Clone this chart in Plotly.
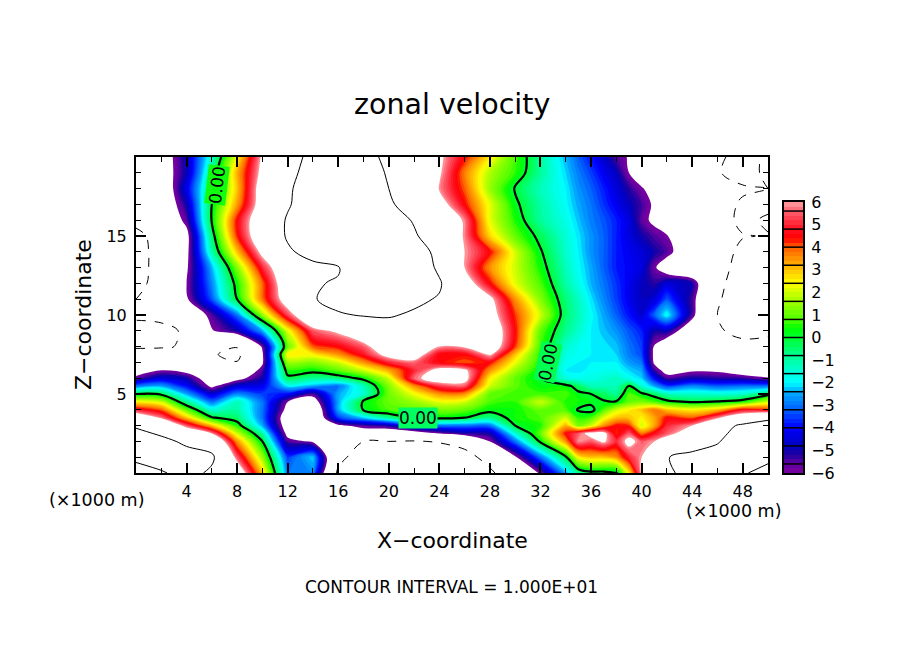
import numpy as np
import plotly.graph_objects as go

# grid of the section, x and z in km
x_km = list(range(0, 35, 2)) + [35, 36, 37, 38, 39, 40, 41] + list(range(42, 51, 2))
z_km = [0, 1, 2, 2.5, 3, 3.5, 4, 4.5, 5, 5.5, 6, 6.5, 7, 7.5, 8, 9, 10, 11, 12, 13, 14, 15, 16, 17, 18, 19, 20]

# zonal velocity, one row per z level
u_rows = [
    [9, 9.7, 11, 9.5, 7.5, 3, -3, -2.8, -10.5, -12, -12, -12, -12, -11.5, -10.5, -8, -5.8, -2.5, -.8, -.3, -.3, -.3, 2.5, 6.2, 8, 9.5, 11, 11.5, 10.2, 9.3],
    [10.5, 11.5, 11.5, 10.5, 5.5, 1.5, -3.5, -2.2, -9.2, -11.5, -12, -12, -12, -11, -9, -6.2, -3, -.2, 2.5, 3, 3, 3.5, 5, 6, 7.5, 9.9, 10.8, 11, 10.3, 10.5],
    [12, 11, 9.3, 8.5, 3.5, 0, -5.5, -6.2, -8.5, -10, -10, -10.2, -9.8, -9, -6, -3, .2, 3.5, 5.9, 5.5, 6.2, 5, 6.5, 5.5, 6, 7, 8.5, 9.8, 11.5, 11.5],
    [11, 9.5, 7.5, 6, 2, -1, -6.5, -7.5, -7.5, -7, -7.5, -7, -6, -5.2, -5, -1.5, 1, 4.5, 5.5, 6.5, 6.5, 4.2, 5.5, 3.8, 4.7, 5.5, 7, 9, 11.5, 11.5],
    [9.5, 8, 5.5, 3, .5, -2.5, -7, -8, -6.3, -5.5, -5, -3.5, -3, -3, -3, 0, .5, 3.2, 1.2, 2, 3.5, 4.5, 4.3, 2, 3.3, 5, 6, 8.5, 10.6, 11],
    [7.5, 5.8, 3, .1, -.5, -3, -7.2, -8, -3.5, -2.2, -.8, .1, .3, 0, -.7, .4, .8, 2, .6, .8, 2.2, 3, 3, 2.5, 3.3, 4.5, 4, 5.8, 7.3, 9.5],
    [5, 4, 1, -1.5, -1, -3, -6.5, -8, -2.5, .1, .8, 1, 1.2, 1, .3, .4, 1, .8, -.1, -.3, .8, 2, 2.5, 3, 3.8, 3, 2.5, 3, 4.8, 4.3],
    [2.5, 2, -.8, -3, -1.2, -3, -6, -7, -2.5, .2, 1, 1.5, 2.2, 2, .8, .6, 2, .5, .4, .2, .1, .1, 1, 1.2, .8, .3, -.1, .1, .5, 2],
    [0, -.2, -2.5, -4.5, -2.8, -3.5, -4, -5.5, -2.5, -1.5, 1.1, 2.3, 3.5, 3.5, 1, .7, .7, .8, .2, 0, -.4, -.9, .8, .2, -.4, -1.2, -1.4, -1.5, -1.4, -.3],
    [-3, -2.5, -4, -6.3, -4.5, -4.2, -2, -2.5, -3, -1.2, 1.3, 3.5, 5.2, 5.5, 2, .9, .3, .3, -.4, -1.2, -1.2, -1.2, .1, -1.5, -2.5, -3.5, -2.8, -3.2, -3, -3],
    [-5.6, -4.5, -5, -7, -6.5, -5, -.3, -.8, -.6, .3, 2, 5.6, 7, 6.6, 2.5, 1, 0, -1.6, -1.8, -1.7, -1.5, -1.3, -1.8, -2.2, -4, -5.5, -5, -5.2, -5.3, -5.9],
    [-7, -6, -6.5, -7.5, -8, -5.5, .5, .3, 1, 2, 3.3, 5, 6.5, 6.3, 3.5, 1.6, .2, -2, -2.1, -1.9, -1.8, -1.8, -2.2, -2.5, -5.3, -6.6, -6.2, -6.2, -7, -7],
    [-8, -8, -8, -8.5, -9.9, -6.2, 1.5, 1.3, 2, 3.5, 5, 5.6, 4.5, 4, 4.5, 2.3, .4, -1.8, -2, -2, -2, -2, -2.6, -3, -6.2, -7.5, -8.5, -8.5, -8, -8],
    [-9, -9, -9, -9.8, -10.6, -6.2, 2.5, 2.5, 3.5, 4.8, 6.6, 7, 4.5, 4.5, 6.2, 3, .5, -1.6, -1.9, -2, -2.1, -2.2, -2.9, -3.4, -6.3, -8, -9, -9, -9, -8.8],
    [-10.3, -10.2, -9.8, -8.5, -9.9, -5.8, 1, 4, 4.5, 5.5, 7.5, 8, 6, 6.2, 7.3, 4.2, .7, -1.4, -1.8, -2, -2.1, -2.3, -3, -3.5, -6.1, -7.5, -8.5, -9.5, -9.5, -9.5],
    [-11, -11, -9.5, -6.1, -5, -2.5, 2.2, 5.5, 6.3, 7.5, 9, 8.5, 8, 8, 7.5, 4.5, 1, -.8, -1.4, -2, -2.3, -2.7, -3.3, -3.8, -5, -4.8, -7.5, -9.8, -10.5, -10.3],
    [-9.5, -9, -7.7, -5.5, -3, 1.5, 5.3, 8, 9.7, 10.2, 10.2, 9.7, 9, 8, 6.8, 4.2, 2, -.5, -1.2, -1.9, -2.5, -3.2, -3.9, -4.6, -3.2, -1.8, -5.5, -10, -11, -10.8],
    [-10, -9, -6.2, -3.3, 0, 3.8, 7, 9.8, 11, 11.5, 11.5, 10.5, 9.8, 8.5, 6.4, 3.5, 1.3, -.6, -1.3, -2.1, -2.8, -3.5, -4.2, -4.8, -4.5, -3.3, -5.4, -9.7, -11.5, -11],
    [-11, -8.7, -6, -2.8, .4, 3.9, 7.5, 9.9, 10.1, 11, 12, 12, 10.3, 7, 4.5, 2.2, .8, -1, -1.7, -2.4, -3, -3.6, -4.2, -4.8, -5.2, -4.5, -5, -9.3, -11.5, -11.5],
    [-11.5, -8.5, -6.2, -2.4, 1.3, 5, 7.8, 9.3, 9.9, 11, 12.5, 12, 9.5, 6, 3.5, 2, .4, -1.2, -1.9, -2.5, -3.2, -3.8, -4.1, -4.4, -5.8, -7, -8, -9, -11, -11.2],
    [-11.5, -8.5, -6.4, -1.1, 3, 6.5, 9.6, 11, 12.5, 13, 13, 11.8, 9, 6, 4.5, 2, .1, -1.4, -2, -2.7, -3.2, -3.8, -4.2, -4.5, -5, -5.5, -7.5, -9, -10.5, -10.8],
    [-11, -8.5, -6.5, -.5, 4.3, 7.5, 10.3, 12, 13, 13, 12, 10.3, 8.5, 5.8, 2.8, 1, -.3, -1.5, -2.1, -2.7, -3.2, -3.8, -4.4, -5, -5.5, -5.9, -8.3, -9, -9.9, -10.1],
    [-9, -7.8, -5.6, .1, 4.5, 7.5, 10.3, 12, 13, 12.5, 11.2, 9.8, 7.8, 5.8, 2.2, .5, -.9, -1.7, -2.3, -2.9, -3.3, -3.8, -4.4, -5.6, -6.3, -7, -8.5, -9, -10.5, -9.7],
    [-8.5, -7.5, -5, 0, 3.4, 7, 9.7, 11.8, 12.5, 11.8, 10.4, 8.7, 6.8, 4.5, 2.2, .2, -1, -1.9, -2.5, -3, -3.6, -4.2, -4.8, -5.4, -6.2, -7, -8.5, -9, -10.3, -10.5],
    [-8, -7.5, -4.3, -.5, 3, 7, 9.6, 11.5, 12, 11.2, 10, 8.6, 5.9, 4, 1.5, -.1, -1.2, -2, -2.7, -3.2, -3.8, -4.5, -5.2, -5.9, -6.5, -7, -8.5, -9.5, -9.7, -10],
    [-8, -7, -4.9, -.8, 3.2, 6.5, 9.3, 11, 12, 11, 9.8, 8, 6.2, 3.7, 1.7, .6, -.9, -2.2, -2.9, -3.5, -4.2, -4.8, -6, -6.7, -7, -7.5, -8.5, -9.8, -11, -9.5],
    [-8, -7, -4.8, -1.4, 2.4, 6.3, 8.5, 11, 12, 11.5, 9, 7.5, 6.3, 4.5, 2.6, .75, -.9, -2.4, -3.2, -3.9, -4.7, -5.5, -6.1, -6.5, -7, -7.5, -8.5, -9.5, -11, -9.6],
]

bar_ticks = [-6, -5, -4, -3, -2, -1, 0, 1, 2, 3, 4, 5, 6]
x_ticks = list(range(4, 49, 4))
z_ticks = [5, 10, 15]

W, H = 904, 654
PAGE_OFFSET = 8  # body margin of the written page
LEVEL_STEP = 0.2

# colours against velocity, white outside +-6
palette = [
    (-6, '#7a00a0'), (-5.6, '#6000a0'), (-5.2, '#2000a0'), (-4.8, '#0000c0'), (-4, '#0000ff'),
    (-3.2, '#0060ff'), (-2.4, '#00b0ff'), (-2, '#00ffff'), (-1.6, '#00ffe0'), (-0.8, '#00ff90'),
    (0, '#00ff30'), (0.4, '#00ff00'), (0.8, '#50ff00'), (1.6, '#a0ff00'), (2.4, '#ffff00'),
    (3.2, '#ffb000'), (4, '#ff6000'), (4.4, '#ff0000'), (4.8, '#ff1020'), (5.6, '#ff6070'), (6, '#ffa0a0'),
]
span = 12 + LEVEL_STEP


def frac(v):
    return (v + 6 + LEVEL_STEP / 2) / span


colorscale = [[0, 'white'], [frac(-6) - 1e-6, 'white']]
colorscale += [[frac(v), c] for v, c in palette]
colorscale += [[frac(6) + 1e-6, 'white'], [1, 'white']]


def px_x(p):
    return (p - PAGE_OFFSET) / W


def px_y(p):
    return (H - (p - PAGE_OFFSET)) / H


fig = go.Figure()

# filled field
fig.add_trace(go.Contour(
    x=x_km, y=z_km, z=u_rows, colorscale=colorscale, showscale=False, hoverinfo='skip',
    contours=dict(start=-6, end=6, size=LEVEL_STEP, coloring='fill', showlines=False),
    line=dict(width=0, smoothing=1.0),
))

# the three drawn isotachs
for level, width, dash in [(-10, 1, 'dash'), (10, 1, 'solid'), (0, 2.2, 'solid')]:
    fig.add_trace(go.Contour(
        x=x_km, y=z_km, z=u_rows, showscale=False, hoverinfo='skip',
        contours=dict(start=level, end=level, size=1, coloring='none'),
        line=dict(color='black', width=width, dash=dash, smoothing=1.0),
    ))

# colour bar as its own little heatmap
bands = np.arange(-6 + LEVEL_STEP / 2, 6, LEVEL_STEP)
fig.add_trace(go.Heatmap(
    x=[0.5], y=bands, z=[[b] for b in bands], colorscale=colorscale, zmin=-6 - LEVEL_STEP / 2,
    zmax=6 + LEVEL_STEP / 2, showscale=False, hoverinfo='skip', xaxis='x2', yaxis='y2',
))
sep_x, sep_y = [], []
for k in range(-7, 8):
    sep_x += [0, 1, None]
    sep_y += [k * 0.8, k * 0.8, None]
fig.add_trace(go.Scatter(x=sep_x, y=sep_y, mode='lines', line=dict(color='black', width=1.5),
                         showlegend=False, hoverinfo='skip', xaxis='x2', yaxis='y2'))

tick_font = dict(family='DejaVu Sans', size=16, color='black')
fig.update_layout(
    width=W, height=H, margin=dict(l=0, r=0, t=0, b=0, autoexpand=False), showlegend=False,
    paper_bgcolor='white', plot_bgcolor='white',
    xaxis=dict(domain=[px_x(136), px_x(768)], range=[0, 50], tickvals=x_ticks, ticks='inside', ticklen=10,
               tickwidth=2, tickcolor='black', showline=True, linewidth=2, linecolor='black', mirror='ticks',
               showgrid=False, zeroline=False, tickfont=tick_font, ticklabelstandoff=3,
               minor=dict(dtick=2, ticks='inside', ticklen=5, tickwidth=1, tickcolor='black', showgrid=False)),
    yaxis=dict(domain=[px_y(473), px_y(157)], range=[0, 20], tickvals=z_ticks, ticks='inside', ticklen=10,
               tickwidth=2, tickcolor='black', showline=True, linewidth=2, linecolor='black', mirror='ticks',
               showgrid=False, zeroline=False, tickfont=tick_font, ticklabelstandoff=4,
               minor=dict(dtick=1, ticks='inside', ticklen=5, tickwidth=1, tickcolor='black', showgrid=False)),
    xaxis2=dict(domain=[px_x(784), px_x(803)], range=[0, 1], showticklabels=False, ticks='', showgrid=False,
                zeroline=False, showline=True, linewidth=2, linecolor='black', mirror=True, anchor='y2'),
    yaxis2=dict(domain=[px_y(473), px_y(202)], range=[-6, 6], side='right', tickvals=bar_ticks, ticks='outside',
                ticklen=3, tickcolor='rgba(0,0,0,0)', showgrid=False, zeroline=False, showline=True, linewidth=2,
                linecolor='black', mirror=True, tickfont=tick_font, anchor='x2'),
)


def note(text, px, py, size=15, angle=0, bg=None):
    fig.add_annotation(text=text, xref='paper', yref='paper', x=px_x(px), y=px_y(py), showarrow=False,
                       xanchor='center', yanchor='middle', textangle=angle, borderpad=0, bgcolor=bg,
                       font=dict(family='DejaVu Sans', size=size, color='black'))


note('zonal velocity', 452, 104, size=28.5)
note('X\u2212coordinate', 452, 540, size=22)
note('Z\u2212coordinate', 83, 315, size=22, angle=-90)
note('(\u00d71000 m)', 96, 500, size=17.5)
note('(\u00d71000 m)', 733, 511, size=17.5)
note('CONTOUR INTERVAL = 1.000E+01', 451, 587, size=17)

# labels sitting on the zero line, background picks up the local green
note('0.00', 217, 185, size=17, angle=-83, bg='#10ff10')
note('0.00', 418, 418, size=17, bg='#00ff60')
note('0.00', 548, 362, size=17, angle=-78, bg='#00ff50')

fig.write_html("out.html")
